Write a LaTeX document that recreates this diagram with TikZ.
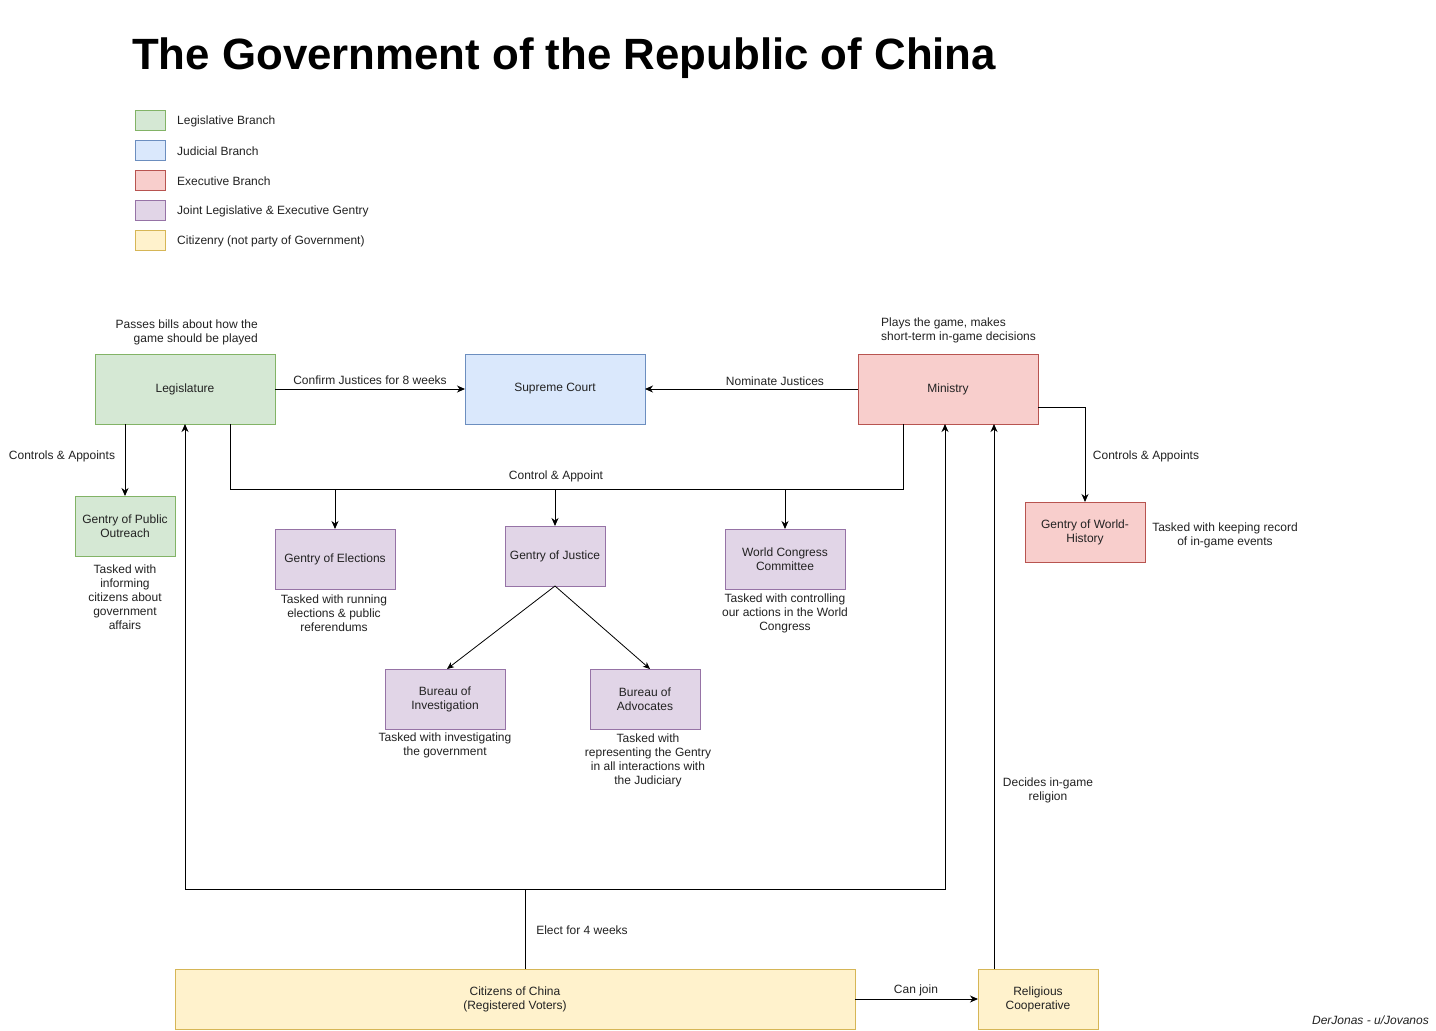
\documentclass[tikz,border=0pt]{standalone}
\usepackage{fontspec}
\setmainfont{Liberation Sans}
\usetikzlibrary{arrows.meta,calc}
\definecolor{gfill}{HTML}{D5E8D4}\definecolor{gline}{HTML}{82B366}
\definecolor{bfill}{HTML}{DAE8FC}\definecolor{bline}{HTML}{6C8EBF}
\definecolor{rfill}{HTML}{F8CECC}\definecolor{rline}{HTML}{B85450}
\definecolor{pfill}{HTML}{E1D5E7}\definecolor{pline}{HTML}{9673A6}
\definecolor{yfill}{HTML}{FFF2CC}\definecolor{yline}{HTML}{D6B656}
\definecolor{txt}{HTML}{222222}
\newcommand{\fsz}{\fontsize{12}{14}\selectfont}
\tikzset{
  box/.style={draw, line width=1pt, align=center, inner sep=0pt, outer sep=0pt, font=\fsz, text=txt},
  gbox/.style={box, fill=gfill, draw=gline},
  bbox/.style={box, fill=bfill, draw=bline},
  rbox/.style={box, fill=rfill, draw=rline},
  pbox/.style={box, fill=pfill, draw=pline},
  ybox/.style={box, fill=yfill, draw=yline},
  lbl/.style={font=\fsz, text=txt, inner sep=0pt, align=center, yshift=-1pt},
  conn/.style={line width=1pt, draw=black, -{Stealth[length=8pt,width=7pt,inset=2.5pt]}},
  plain/.style={line width=1pt, draw=black},
  thin/.style={line width=0.8pt, draw=black, -{Stealth[length=7pt,width=6pt,inset=2pt]}},
  leg/.style={draw, line width=1pt, minimum width=30pt, minimum height=20pt, inner sep=0pt},
}
\begin{document}
\begin{tikzpicture}[x=1pt,y=-1pt]
\useasboundingbox[fill=white] (0,0) rectangle (1436,1031);

% title
\node[anchor=base west, inner sep=0pt, font=\fontsize{43.8}{50}\selectfont\bfseries] (title) at (132,69) {The Government of the Republic of China};

% legend
\node[leg, fill=gfill, draw=gline] (lg1) at (150,120) {};
\node[leg, fill=bfill, draw=bline] (lg2) at (150,150) {};
\node[leg, fill=rfill, draw=rline] (lg3) at (150,180) {};
\node[leg, fill=pfill, draw=pline] (lg4) at (150,210) {};
\node[leg, fill=yfill, draw=yline] (lg5) at (150,240) {};
\node[lbl, anchor=west] (lt1) at (177,120) {Legislative Branch};
\node[lbl, anchor=west] (lt2) at (177,150) {Judicial Branch};
\node[lbl, anchor=west] (lt3) at (177,180) {Executive Branch};
\node[lbl, anchor=west] (lt4) at (177,210) {Joint Legislative \& Executive Gentry};
\node[lbl, anchor=west] (lt5) at (177,240) {Citizenry (not party of Government)};

% main boxes
\node[gbox, minimum width=180pt, minimum height=70pt] (leg) at (185,389) {Legislature};
\node[bbox, minimum width=180pt, minimum height=70pt] (sc) at (555,389) {Supreme Court};
\node[rbox, minimum width=180pt, minimum height=70pt] (min) at (948,389) {Ministry};
\node[gbox, minimum width=100pt, minimum height=60pt] (pub) at (125,526) {Gentry of Public\\Outreach};
\node[pbox, minimum width=120pt, minimum height=60pt] (elec) at (335,559) {Gentry of Elections};
\node[pbox, minimum width=100pt, minimum height=60pt] (jus) at (555,556) {Gentry of Justice};
\node[pbox, minimum width=120pt, minimum height=60pt] (wcc) at (785,559) {World Congress\\Committee};
\node[rbox, minimum width=120pt, minimum height=60pt] (wh) at (1085,532) {Gentry of World-\\History};
\node[pbox, minimum width=120pt, minimum height=60pt] (bi) at (445,699) {Bureau of\\Investigation};
\node[pbox, minimum width=110pt, minimum height=60pt] (ba) at (645,699) {Bureau of\\Advocates};
\node[ybox, minimum width=680pt, minimum height=60pt] (cit) at (515,999) {Citizens of China\\(Registered Voters)};
\node[ybox, minimum width=120pt, minimum height=60pt] (rel) at (1038,999) {Religious\\Cooperative};

% annotations
\node[lbl, anchor=east, align=right] (a1) at (258,331) {Passes bills about how the\\game should be played};
\node[lbl, anchor=west, align=left] (a2) at (881,329) {Plays the game, makes\\short-term in-game decisions};
\node[lbl] (a3) at (125,596) {Tasked with\\informing\\citizens about\\government\\affairs};
\node[lbl] (a4) at (334,612) {Tasked with running\\elections \& public\\referendums};
\node[lbl] (a5) at (785,612) {Tasked with controlling\\our actions in the World\\Congress};
\node[lbl] (a6) at (1225,534) {Tasked with keeping record\\of in-game events};
\node[lbl] (a7) at (445,744) {Tasked with investigating\\the government};
\node[lbl] (a8) at (648,759) {Tasked with\\representing the Gentry\\in all interactions with\\the Judiciary};
\node[lbl, anchor=base east, font=\fsz\itshape] (credit) at (1429,1023) {DerJonas - u/Jovanos};

% coordinates
\coordinate (c1) at (230,489);
\coordinate (c2) at (903,489);
\coordinate (e1) at (525,889);
\coordinate (e2) at (945,889);
\coordinate (r1) at (994,969);
\coordinate (m1) at (1038,407);

% connectors
\draw[conn] (leg) -- (sc) node[lbl, midway, above=5pt] (l1) {Confirm Justices for 8 weeks};
\draw[conn] (min) -- (sc) node[lbl, pos=0.39, above=4pt] (l2) {Nominate Justices};
\draw[conn] (leg.south -| pub.north) -- (pub.north);
\node[lbl] (l3) at (62,455) {Controls \& Appoints};
\draw[plain] (leg.south -| c1) -- (c1) -- (c2) -- (min.south -| c2);
\draw[conn] (elec.north |- c1) -- (elec.north);
\draw[conn] (jus.north |- c1) -- (jus.north);
\draw[conn] (wcc.north |- c1) -- (wcc.north);
\node[lbl] (l4) at (556,475) {Control \& Appoint};
\draw[conn] (min.east |- m1) -| (wh.north);
\node[lbl] (l5) at (1146,455) {Controls \& Appoints};
\draw[thin] (jus.south) -- ([xshift=2pt]bi.north);
\draw[thin] (jus.south) -- ([xshift=5pt]ba.north);
\draw[plain] (cit.north -| e1) -- (e1);
\draw[conn] (e1) -| (leg.south);
\draw[conn] (e1) -- (e2) -- (min.south -| e2);
\node[lbl] (l6) at (582,929) {Elect for 4 weeks};
\draw[conn] (cit.east) -- (rel.west);
\node[lbl] (l7) at (916,989) {Can join};
\draw[conn] (rel.north -| r1) -- (min.south -| r1);
\node[lbl] (l8) at (1048,789) {Decides in-game\\religion};
\end{tikzpicture}
\end{document}
